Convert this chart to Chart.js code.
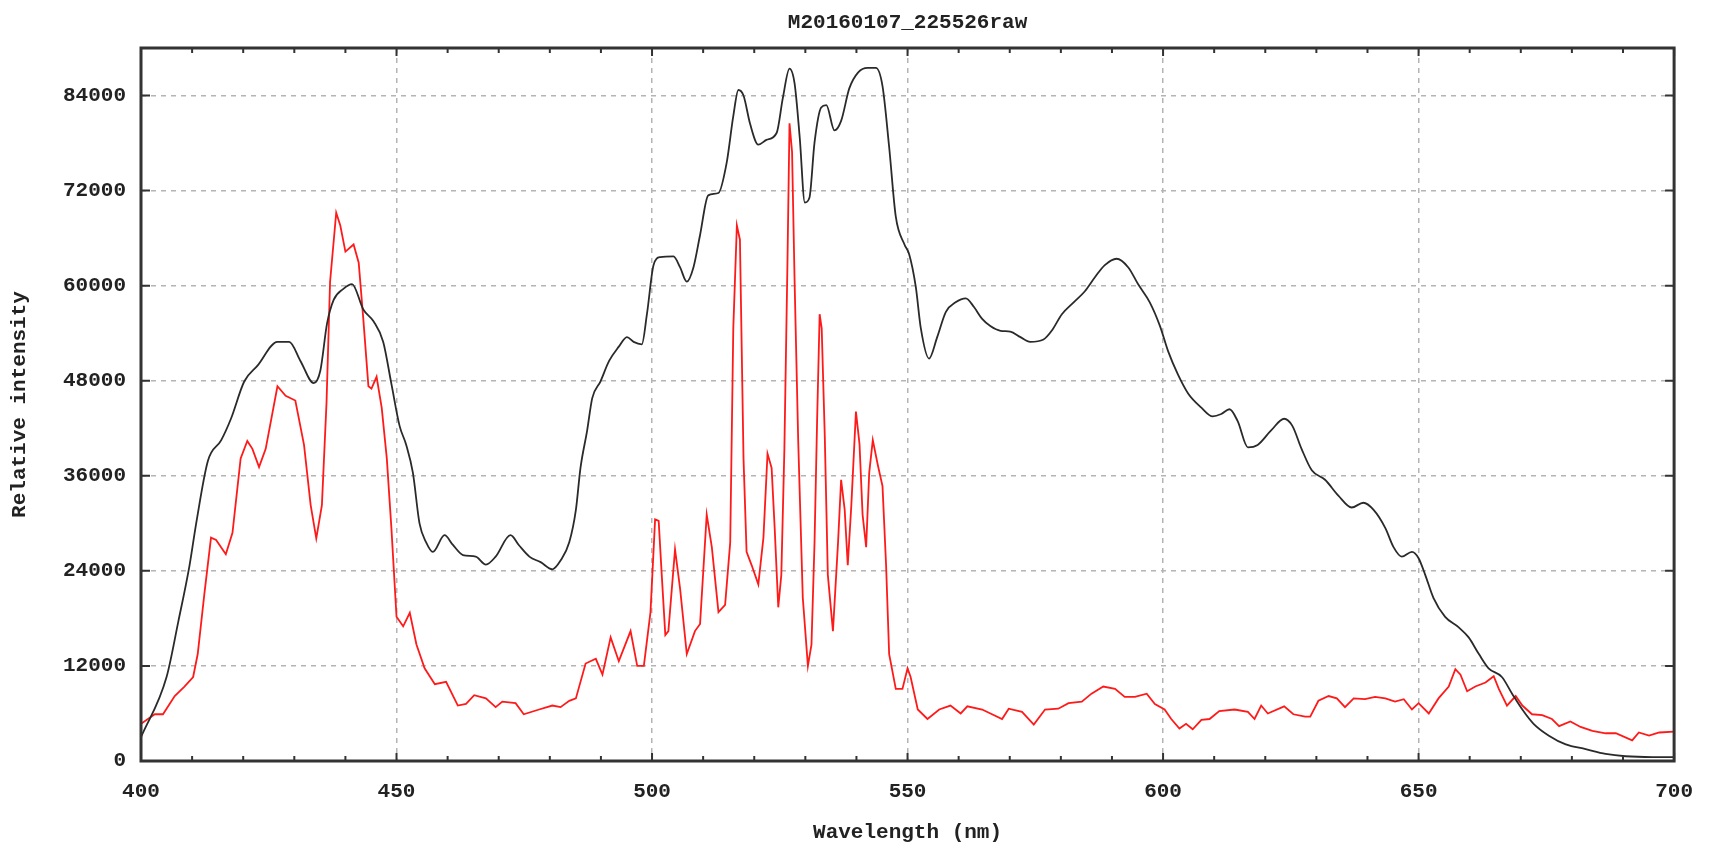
<!DOCTYPE html>
<html>
<head>
<meta charset="utf-8">
<title>M20160107_225526raw</title>
<script src="https://cdn.jsdelivr.net/npm/chart.js@4.4.1/dist/chart.umd.min.js"></script>
<style>
  html, body { margin: 0; padding: 0; background: #fff; }
  #wrap { width: 1711px; height: 845px; position: relative; }
</style>
</head>
<body>
<div id="wrap"><canvas id="spectrum"></canvas></div>
<script>
// Data
const chartTitle = "M20160107_225526raw";
const xTitle = "Wavelength (nm)";
const yTitle = "Relative intensity";

const xTicks = [400, 450, 500, 550, 600, 650, 700];
const yTicks = [0, 12000, 24000, 36000, 48000, 60000, 72000, 84000];
const yMax = 90000;
const minorStep = 10;

// black curve (smooth)
const blackNm = [400, 405, 407.3, 409.5, 410.8, 413.1, 415.7, 417.6, 420.2, 422.8, 426.7, 429, 431.2, 433.8, 435.1, 436.4, 437.7, 439.6, 441.3, 443.5, 445.5, 447.4, 449, 450.6, 451.9, 453.2, 454.5, 455.8, 457.1, 459.4, 461, 463, 465.5, 467.5, 469.4, 472.3, 474, 476, 478.2, 480.5, 482.1, 483.8, 485.1, 486, 487.3, 488.3, 489.9, 491.6, 493.5, 495.1, 496.4, 498, 499, 500.3, 501.6, 504.2, 505.5, 506.8, 508.1, 509.4, 511, 513, 514.6, 515.9, 516.9, 517.9, 519.2, 520.8, 522.4, 524.4, 525.6, 526.9, 527.9, 528.9, 529.9, 530.8, 531.8, 533.1, 534.1, 535.7, 537, 538.6, 540.3, 542.2, 543.8, 545.1, 546.4, 547.7, 549.4, 550.3, 551.6, 552.6, 554.2, 555.8, 557.5, 559.4, 561.4, 563, 564.6, 566.2, 568.2, 570.1, 572.1, 574, 576.6, 578.2, 580.2, 582.5, 584.7, 586.7, 588.6, 590.9, 593.2, 595.1, 597.4, 599.4, 601, 602.9, 604.9, 607.5, 609.7, 611.4, 613, 614.6, 616.6, 618.5, 621.1, 623.7, 625.3, 627.1, 629.1, 631.7, 634.3, 636.9, 639.2, 641.2, 643.5, 645.1, 646.7, 648.7, 650, 651.3, 652.9, 655.2, 657.8, 659.8, 661.8, 663.7, 666.3, 668.3, 670.3, 672.5, 675.5, 678.8, 682.7, 686.6, 690.5, 695.8, 700];
const blackVal = [3000, 10600, 17600, 24700, 30000, 37900, 40500, 43200, 47900, 49900, 52900, 52900, 50500, 47700, 49300, 55200, 58200, 59600, 60200, 57000, 55500, 52900, 47600, 42300, 39900, 36400, 30000, 27600, 26400, 28500, 27300, 26000, 25800, 24800, 25800, 28500, 27200, 25800, 25100, 24200, 25300, 27600, 31700, 37000, 41700, 45800, 47900, 50500, 52300, 53500, 52900, 52600, 56400, 62600, 63600, 63700, 62300, 60500, 62300, 66400, 71400, 71700, 75500, 81400, 84700, 84000, 80400, 77800, 78400, 79300, 83700, 87400, 85500, 78700, 70500, 71100, 78100, 82500, 82800, 79600, 80800, 84900, 86900, 87500, 87500, 85200, 77500, 68700, 65200, 64000, 59900, 54600, 50800, 53500, 56700, 57900, 58400, 57300, 55800, 54900, 54300, 54200, 53500, 52900, 53200, 54300, 56400, 57900, 59300, 61100, 62600, 63400, 62300, 60200, 57900, 54900, 51700, 48800, 46400, 44600, 43500, 43800, 44400, 42900, 39600, 39900, 41700, 43200, 42300, 39400, 36700, 35500, 33500, 32000, 32600, 31700, 29400, 27000, 25800, 26400, 25600, 23500, 20600, 18200, 16900, 15600, 13500, 11700, 10600, 8500, 6500, 4700, 3200, 2100, 1500, 900, 600, 500, 500];

// red curve (spiky)
const redNm = [400, 402.7, 404.3, 406.6, 408.5, 410.2, 411.1, 412.4, 413.7, 414.7, 416.6, 417.9, 419.5, 420.8, 421.8, 423.1, 424.4, 426.7, 428.3, 430.2, 431.9, 433.2, 434.3, 435.4, 436.3, 437, 438.2, 439, 440, 441.6, 442.6, 443.5, 444.5, 445.1, 446.1, 447.1, 448.1, 449, 450, 451.3, 452.6, 453.9, 455.5, 457.5, 459.7, 462, 463.6, 465.2, 467.5, 469.4, 470.7, 473.3, 474.9, 477.9, 480.5, 482.1, 483.8, 485.1, 487, 489, 490.3, 491.9, 493.5, 495.8, 497.1, 498.4, 499.7, 500.6, 501.3, 501.9, 502.6, 503.2, 504.5, 505.5, 506.8, 508.4, 509.4, 510.7, 511.7, 513, 514.3, 515.3, 515.9, 516.6, 517.2, 517.9, 518.5, 519.5, 520.8, 521.8, 522.6, 523.4, 524, 524.7, 525.3, 525.9, 526.5, 526.9, 527.4, 527.9, 528.6, 529.5, 530.5, 531.2, 531.8, 532.3, 532.8, 533.2, 533.8, 534.4, 535.4, 536.4, 537, 537.7, 538.3, 539, 539.9, 540.6, 541.2, 541.9, 542.5, 543.2, 544.2, 545.1, 545.8, 546.4, 547.7, 549, 550, 550.6, 552, 553.9, 556.2, 558.4, 560.4, 561.7, 564.6, 568.5, 569.8, 572.4, 574.7, 576.9, 579.5, 581.5, 584.1, 586, 588.3, 590.6, 592.5, 594.5, 596.8, 598.4, 600.3, 601.6, 603.2, 604.5, 605.8, 607.5, 609.1, 611, 614, 616.6, 617.9, 619.2, 620.5, 623.7, 625.5, 627.8, 628.8, 630.4, 632.4, 634, 635.6, 637.3, 639.5, 641.5, 643.5, 645.4, 647.1, 648.7, 650, 652, 653.9, 655.9, 657.2, 658.2, 659.5, 661.1, 663.1, 664.7, 665.7, 667.3, 669, 670.3, 672.2, 674.2, 676.1, 677.5, 679.7, 681.7, 684, 686.6, 688.6, 691.8, 693.1, 695.1, 697.1, 700];
const redVal = [4700, 5900, 5900, 8200, 9400, 10600, 13500, 21100, 28200, 27900, 26100, 28800, 38200, 40400, 39400, 37100, 39400, 47300, 46100, 45500, 39900, 32300, 28100, 32300, 45200, 60500, 69200, 67600, 64300, 65200, 62900, 55800, 47300, 47000, 48500, 44600, 38200, 29400, 18200, 17000, 18700, 14700, 11700, 9700, 10000, 7000, 7200, 8300, 7900, 6800, 7500, 7300, 5900, 6500, 7000, 6800, 7600, 7900, 12300, 12900, 10900, 15600, 12600, 16400, 12000, 12000, 18800, 30500, 30300, 23500, 15900, 16400, 26700, 21700, 13500, 16400, 17300, 31100, 27000, 18800, 19700, 27600, 54600, 67600, 65800, 38200, 26400, 24700, 22300, 28200, 38800, 37000, 29400, 19400, 23500, 39400, 62900, 80500, 76900, 60500, 40500, 20600, 12000, 14700, 27600, 42900, 56400, 54600, 41100, 23500, 16400, 27600, 35500, 31700, 24700, 32300, 44100, 40000, 31100, 27000, 36400, 40500, 37300, 34700, 24700, 13500, 9100, 9100, 11700, 10600, 6500, 5300, 6500, 7000, 6000, 6900, 6500, 5300, 6600, 6200, 4600, 6500, 6600, 7300, 7500, 8500, 9400, 9100, 8100, 8100, 8500, 7200, 6500, 5300, 4100, 4700, 4000, 5200, 5300, 6300, 6500, 6200, 5300, 7000, 6000, 6900, 5900, 5600, 5600, 7600, 8200, 7900, 6800, 7900, 7800, 8100, 7900, 7500, 7800, 6500, 7300, 6000, 7900, 9400, 11600, 10900, 8800, 9400, 9900, 10700, 9100, 7000, 8200, 7000, 5900, 5800, 5300, 4400, 5000, 4300, 3800, 3500, 3500, 2600, 3600, 3200, 3600, 3700];

const fontFamily = "'Liberation Mono', 'DejaVu Sans Mono', monospace";
const textColor = "#222";
const gridColor = "#b4b4b4";

// frame round the plot, inward tick marks, title centred over the plot
const frameTicks = {
  id: "frameTicks",
  afterDatasetsDraw(chart) {
    const { ctx, chartArea: a, scales: { x, y } } = chart;
    ctx.save();
    ctx.strokeStyle = "#333";
    ctx.lineWidth = 2;
    ctx.beginPath();
    for (let nm = xTicks[0]; nm <= xTicks[xTicks.length - 1]; nm += minorStep) {
      const px = x.getPixelForValue(nm);
      const len = nm % 50 === 0 ? 8 : 5;
      ctx.moveTo(px, a.bottom); ctx.lineTo(px, a.bottom - len);
      ctx.moveTo(px, a.top); ctx.lineTo(px, a.top + len);
    }
    yTicks.forEach(v => {
      const py = y.getPixelForValue(v);
      ctx.moveTo(a.left, py); ctx.lineTo(a.left + 9, py);
      ctx.moveTo(a.right, py); ctx.lineTo(a.right - 9, py);
    });
    ctx.stroke();
    ctx.lineWidth = 3;
    ctx.strokeRect(a.left, a.top, a.right - a.left, a.bottom - a.top);

    ctx.fillStyle = textColor;
    ctx.font = "bold 21px " + fontFamily;
    ctx.textAlign = "center";
    ctx.textBaseline = "middle";
    ctx.fillText(chartTitle, (a.left + a.right) / 2, 23);
    ctx.restore();
  }
};

const ctx = document.getElementById("spectrum").getContext("2d");
let spectrumChart = new Chart(ctx, {
  type: "line",
  data: {
    datasets: [
      {
        label: "raw",
        data: blackNm.map((nm, i) => ({ x: nm, y: blackVal[i] })),
        borderColor: "#2a2a2a",
        borderWidth: 1.8,
        pointRadius: 0,
        cubicInterpolationMode: "monotone",
        fill: false
      },
      {
        label: "corrected",
        data: redNm.map((nm, i) => ({ x: nm, y: redVal[i] })),
        borderColor: "#ff1a1a",
        borderWidth: 1.8,
        pointRadius: 0,
        tension: 0,
        fill: false
      }
    ]
  },
  plugins: [frameTicks],
  options: {
    responsive: true,
    maintainAspectRatio: false,
    animation: false,
    devicePixelRatio: 1,
    layout: { padding: { left: 0, right: 31, top: 48, bottom: 0 } },
    plugins: {
      legend: { display: false },
      tooltip: { enabled: false },
      title: { display: false }
    },
    scales: {
      x: {
        type: "linear",
        min: xTicks[0],
        max: xTicks[xTicks.length - 1],
        afterFit: scale => { scale.height = 84; },
        afterBuildTicks: scale => { scale.ticks = xTicks.map(v => ({ value: v })); },
        ticks: {
          color: textColor,
          padding: 18,
          maxRotation: 0,
          autoSkip: false,
          font: { family: fontFamily, size: 21, weight: "bold", lineHeight: 1.2 },
          callback: v => String(v)
        },
        grid: {
          drawTicks: false,
          lineWidth: 1.5,
          color: c => (c.tick && (c.tick.value === xTicks[0] || c.tick.value === xTicks[xTicks.length - 1])) ? "rgba(0,0,0,0)" : gridColor
        },
        border: { display: false, dash: [5, 5] },
        title: {
          display: true,
          text: xTitle,
          color: textColor,
          font: { family: fontFamily, size: 21, weight: "bold", lineHeight: 1.2 },
          padding: { top: 0, bottom: 0 }
        }
      },
      y: {
        min: 0,
        max: yMax,
        afterFit: scale => { scale.width = 141; },
        afterBuildTicks: scale => { scale.ticks = yTicks.map(v => ({ value: v })); },
        ticks: {
          color: textColor,
          padding: 15,
          autoSkip: false,
          font: { family: fontFamily, size: 21, weight: "bold", lineHeight: 1.2 },
          callback: v => String(v)
        },
        grid: {
          drawTicks: false,
          lineWidth: 1.5,
          color: c => (c.tick && c.tick.value === 0) ? "rgba(0,0,0,0)" : gridColor
        },
        border: { display: false, dash: [5, 5] },
        title: {
          display: true,
          text: yTitle,
          color: textColor,
          font: { family: fontFamily, size: 21, weight: "bold", lineHeight: 1.2 },
          padding: { top: 7, bottom: 0 }
        }
      }
    }
  }
});
</script>
</body>
</html>
